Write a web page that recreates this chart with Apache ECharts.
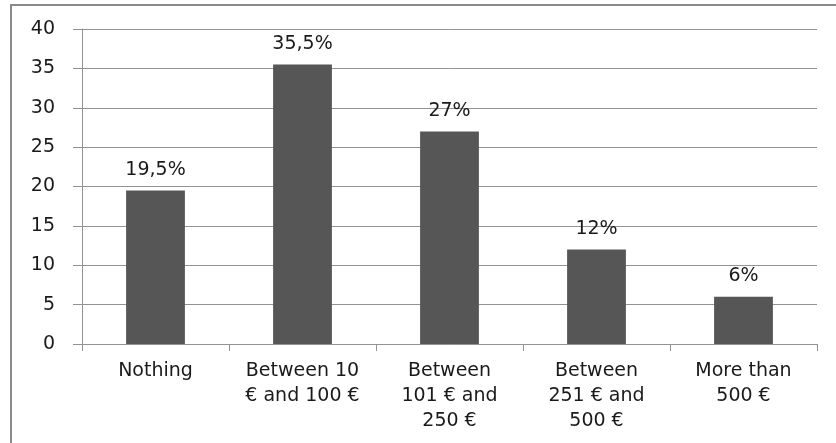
<!DOCTYPE html>
<html>
<head>
<meta charset="utf-8">
<script src="https://cdn.jsdelivr.net/npm/echarts@6/dist/echarts.min.js"></script>
<style>
  html, body { margin: 0; padding: 0; background: #fff; }
  #chart { width: 836px; height: 443px; }
</style>
</head>
<body>
<div id="chart"></div>
<script>
// Amount spent, share of respondents per band
const categories = [
  'Nothing',
  'Between 10\n€ and 100 €',
  'Between\n101 € and\n250 €',
  'Between\n251 € and\n500 €',
  'More than\n500 €'
];
const values = [19.5, 35.5, 27, 12, 6];
const valueLabels = ['19,5%', '35,5%', '27%', '12%', '6%'];
const yTicks = [0, 5, 10, 15, 20, 25, 30, 35, 40];

const FONT = '"DejaVu Sans", Verdana, sans-serif';
const GRID_GREY = '#939393';
const TEXT = '#1a1a1a';

const chart = echarts.init(document.getElementById('chart'), null, { renderer: 'canvas' });

chart.setOption({
  backgroundColor: '#ffffff',
  animation: false,
  grid: { left: 82, right: 19, top: 29, bottom: 99, containLabel: false },
  // frame around the chart (top and left edges)
  graphic: [
    {
      type: 'polyline',
      shape: { points: [[11, 443], [11, 5], [836, 5]] },
      style: { stroke: '#8a8a8a', lineWidth: 2, fill: null },
      silent: true
    }
  ],
  xAxis: {
    type: 'category',
    data: categories,
    axisLine: { show: true, lineStyle: { color: GRID_GREY, width: 1 } },
    axisTick: { show: true, length: 7, lineStyle: { color: GRID_GREY } },
    axisLabel: {
      interval: 0,
      margin: 15,
      color: TEXT,
      fontFamily: FONT,
      fontSize: 19,
      lineHeight: 25
    }
  },
  yAxis: {
    type: 'value',
    min: yTicks[0],
    max: yTicks[yTicks.length - 1],
    interval: yTicks[1] - yTicks[0],
    axisLine: { show: true, lineStyle: { color: GRID_GREY, width: 1 } },
    axisTick: { show: true, length: 9, lineStyle: { color: GRID_GREY } },
    splitLine: { show: true, lineStyle: { color: GRID_GREY, width: 1 } },
    axisLabel: {
      margin: 27,
      color: TEXT,
      fontFamily: FONT,
      fontSize: 19
    }
  },
  series: [
    {
      type: 'bar',
      data: values,
      barCategoryGap: '60%',
      itemStyle: { color: '#565656' },
      label: {
        show: true,
        position: 'top',
        distance: 11,
        color: TEXT,
        fontFamily: FONT,
        fontSize: 19,
        formatter: (p) => valueLabels[p.dataIndex]
      }
    }
  ]
});
</script>
</body>
</html>
